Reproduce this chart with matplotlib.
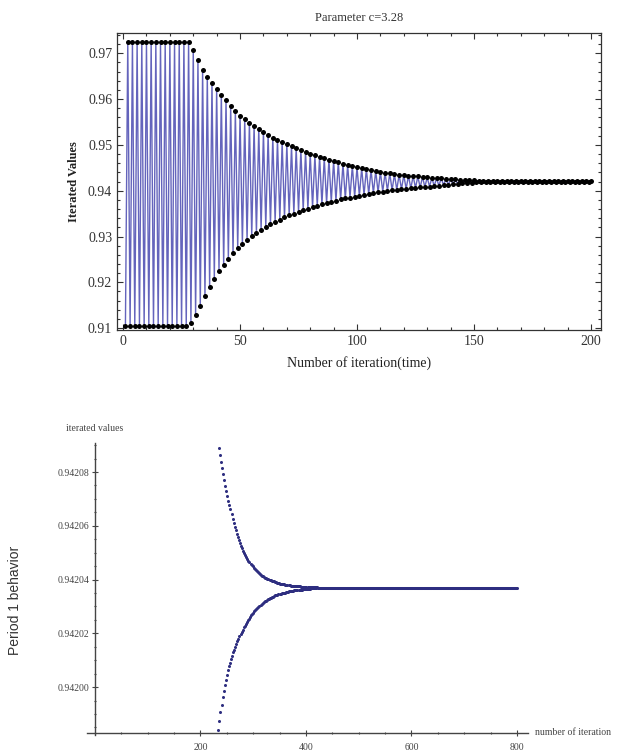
import numpy as np
import matplotlib.pyplot as plt
from matplotlib.ticker import MultipleLocator

plt.rcParams['font.family'] = ['Liberation Serif', 'DejaVu Serif']

# ---- top panel: iterated values for c=3.28
# even iterations 2,4,...,200 (upper branch)
upper_top = [0.9725, 0.9725, 0.9725, 0.9725, 0.9725, 0.9725, 0.9725,
             0.9725, 0.9725, 0.9725, 0.9725, 0.9725, 0.9725, 0.9725,
             0.9708, 0.9686, 0.9664, 0.9649, 0.9636, 0.9622, 0.9609, 0.9597,
             0.9585, 0.9574, 0.9564, 0.9556, 0.9548, 0.9541, 0.9534, 0.9528,
             0.9522, 0.9516, 0.9511, 0.9506, 0.9501, 0.9497, 0.9493, 0.9489,
             0.9485, 0.9481, 0.9477, 0.9474, 0.9471, 0.9468, 0.9465, 0.9462,
             0.9459, 0.9456, 0.9454, 0.9451, 0.9449, 0.9447, 0.9445, 0.9443,
             0.9441, 0.9439, 0.9438, 0.9436, 0.9435, 0.9434, 0.9433, 0.9432,
             0.9431, 0.9430, 0.9429, 0.9428, 0.9427, 0.9427, 0.9426, 0.9425,
             0.9425, 0.9424, 0.9424, 0.9423, 0.9423, 0.9422, 0.9422, 0.9422,
             0.9421,
             0.9421, 0.9421, 0.9421, 0.9421, 0.9421, 0.9421, 0.9421, 0.9421,
             0.9421, 0.9421, 0.9421, 0.9421, 0.9421, 0.9421, 0.9421, 0.9421,
             0.9421, 0.9421, 0.9421, 0.9421, 0.9421]
# odd iterations 1,3,...,199 (lower branch)
lower_top = [0.9105, 0.9105, 0.9105, 0.9105, 0.9105, 0.9105, 0.9105,
             0.9105, 0.9105, 0.9105, 0.9105, 0.9105, 0.9105, 0.9105,
             0.9112, 0.9128, 0.9148, 0.9170, 0.9190, 0.9208, 0.9224, 0.9238,
             0.9251, 0.9263, 0.9274, 0.9284, 0.9293, 0.9301, 0.9308, 0.9315,
             0.9321, 0.9327, 0.9332, 0.9337, 0.9342, 0.9346, 0.9350, 0.9354,
             0.9358, 0.9361, 0.9364, 0.9367, 0.9370, 0.9373, 0.9376, 0.9378,
             0.9381, 0.9383, 0.9385, 0.9387, 0.9389, 0.9391, 0.9393, 0.9395,
             0.9397, 0.9398, 0.9400, 0.9401, 0.9402, 0.9403, 0.9404, 0.9405,
             0.9406, 0.9407, 0.9408, 0.9409, 0.9410, 0.9411, 0.9412, 0.9413,
             0.9414, 0.9415, 0.9416, 0.9417, 0.9417, 0.9418, 0.9418, 0.9419,
             0.9419,
             0.9420, 0.9420, 0.9420, 0.9420, 0.9420, 0.9420, 0.9420, 0.9420,
             0.9420, 0.9420, 0.9420, 0.9420, 0.9420, 0.9420, 0.9420, 0.9420,
             0.9420, 0.9420, 0.9420, 0.9420, 0.9420]

# ---- bottom panel: close-up near the fixed point
fixed_point = 0.942037
# deviations from the fixed point, in units of 1e-6
upper_bot_start = 235   # every second iteration
upper_bot_dev = [52.0, 49.3, 46.8, 44.4, 42.1, 40.0, 37.9, 36.0, 34.1, 32.4,
                 30.7, 29.1, 27.4, 25.7, 24.2, 22.7, 21.3, 20.0, 18.8, 17.7,
                 16.6, 15.6, 14.7, 13.8, 12.9, 12.2, 11.4, 10.7, 10.1, 9.5,
                 8.9, 8.4, 7.9, 7.4, 6.9, 6.5, 6.1, 5.8, 5.4, 5.1,
                 4.8, 4.5, 4.2, 3.9, 3.7, 3.5, 3.3, 3.1, 2.9, 2.7,
                 2.6, 2.4, 2.3, 2.1, 2.0, 1.9, 1.7, 1.6, 1.5, 1.5,
                 1.4, 1.3, 1.2, 1.1, 1.0, 1.0, 0.9, 0.9, 0.8, 0.8,
                 0.7, 0.7, 0.6, 0.6, 0.6, 0.5, 0.5, 0.5, 0.4, 0.4,
                 0.4, 0.3, 0.3, 0.3, 0.3, 0.3, 0.2, 0.2, 0.2, 0.2,
                 0.2, 0.1, 0.1, 0.1]
lower_bot_start = 234
lower_bot_dev = [-53.0, -49.5, -46.4, -43.5, -40.8, -38.4, -36.2, -34.2, -32.4, -30.8,
                 -29.3, -27.9, -26.6, -25.3, -24.1, -23.0, -21.9, -20.9, -19.9, -19.0,
                 -18.1, -17.2, -16.4, -15.6, -14.8, -14.1, -13.4, -12.7, -12.1, -11.5,
                 -10.9, -10.3, -9.8, -9.3, -8.8, -8.3, -7.9, -7.5, -7.1, -6.7,
                 -6.3, -6.0, -5.7, -5.4, -5.1, -4.8, -4.6, -4.3, -4.1, -3.9,
                 -3.7, -3.5, -3.3, -3.1, -2.9, -2.8, -2.6, -2.5, -2.3, -2.2,
                 -2.1, -2.0, -1.9, -1.8, -1.7, -1.6, -1.5, -1.4, -1.3, -1.2,
                 -1.2, -1.1, -1.0, -1.0, -0.9, -0.9, -0.8, -0.8, -0.7, -0.7,
                 -0.6, -0.6, -0.5, -0.5, -0.5, -0.4, -0.4, -0.4, -0.3, -0.3,
                 -0.3, -0.2, -0.2, -0.2]
tail_end = 800

fig = plt.figure(figsize=(6.25, 7.51), dpi=100)

# ================= top panel =================
ax1 = fig.add_axes([0.1872, 0.5606, 0.7744, 0.3954])
n_top = np.arange(1, 2 * len(lower_top) + 1)
y_top = np.empty(len(n_top))
y_top[0::2] = lower_top
y_top[1::2] = upper_top
ax1.plot(n_top, y_top, color='#6464bc', lw=1.0, zorder=2)
ax1.plot(n_top, y_top, 'o', color='black', ms=3.6, mec='none', zorder=3)

ax1.set_xlim(-2.6, 204.3)
ax1.set_ylim(0.9096, 0.9744)
ax1.xaxis.set_major_locator(MultipleLocator(50))
ax1.xaxis.set_minor_locator(MultipleLocator(10))
ax1.yaxis.set_minor_locator(MultipleLocator(0.002))
ax1.set_yticks([0.91, 0.92, 0.93, 0.94, 0.95, 0.96, 0.97])
ax1.set_yticklabels(['0.91', '0.92', '0.93', '0.94', '0.95', '0.96', '0.97'])
ax1.tick_params(which='both', direction='in', top=True, right=True,
                labelsize=10, colors='#333333', width=0.8)
ax1.tick_params(which='major', length=4.5)
ax1.tick_params(which='minor', length=2.5)
for s in ax1.spines.values():
    s.set_color('#333333')
    s.set_linewidth(0.9)
ax1.set_title('Parameter c=3.28', fontsize=9, color='#333333', pad=9)
ax1.set_xlabel('Number of iteration(time)', fontsize=10, color='#222222', labelpad=6)
ax1.set_ylabel('Iterated Values', fontsize=9, color='#222222', fontweight='bold',
               labelpad=6)

# ================= bottom panel =================
ax2 = fig.add_axes([0.1392, 0.0213, 0.7056, 0.3888])
navy = '#2e2e80'
n_up = np.arange(upper_bot_start, upper_bot_start + 2 * len(upper_bot_dev), 2)
n_lo = np.arange(lower_bot_start, lower_bot_start + 2 * len(lower_bot_dev), 2)
y_up = fixed_point + np.array(upper_bot_dev) * 1e-6
y_lo = fixed_point + np.array(lower_bot_dev) * 1e-6
n_tail = np.arange(max(n_up[-1], n_lo[-1]) + 1, tail_end + 1)
y_tail = np.full(len(n_tail), fixed_point)
for xx, yy in [(n_up, y_up), (n_lo, y_lo), (n_tail, y_tail)]:
    ax2.plot(xx, yy, 'o', color=navy, ms=2.2, mec='none')

ax2.set_xlim(-15, 821)
ax2.set_ylim(0.9419822, 0.9420908)
for side in ['top', 'right']:
    ax2.spines[side].set_visible(False)
ax2.spines['left'].set_position(('data', 0))
ax2.spines['bottom'].set_position(('data', 0.941983))
for side in ['left', 'bottom']:
    ax2.spines[side].set_color('#444444')
    ax2.spines[side].set_linewidth(1.0)
ax2.set_xticks([200, 400, 600, 800])
ax2.set_xticklabels(['200', '400', '600', '800'])
ax2.xaxis.set_minor_locator(MultipleLocator(50))
ax2.set_yticks([0.94200, 0.94202, 0.94204, 0.94206, 0.94208])
ax2.set_yticklabels(['0.94200', '0.94202', '0.94204', '0.94206', '0.94208'])
ax2.yaxis.set_minor_locator(MultipleLocator(0.000005))
ax2.tick_params(which='both', direction='inout', labelsize=7,
                colors='#444444', width=0.8)
ax2.tick_params(which='major', length=4)
ax2.tick_params(which='minor', length=2)
ax2.tick_params(axis='x', pad=5)
ax2.tick_params(axis='y', pad=2)

# x in data / y in axes for the label above the vertical axis
ax2.text(0, 1.035, 'iterated values', transform=ax2.get_xaxis_transform(),
         ha='center', va='bottom', fontsize=7, color='#444444', clip_on=False)
# x in axes / y in data for the label after the horizontal axis
ax2.text(1.015, 0.941983, 'number of iteration', transform=ax2.get_yaxis_transform(),
         ha='left', va='center', fontsize=7, color='#444444', clip_on=False)
fig.text(0.024, 0.20, 'Period 1 behavior', rotation=90, ha='center', va='center',
         fontsize=10, color='#333333', family=['Liberation Sans', 'DejaVu Sans'])

fig.savefig('out.png', dpi=100)
